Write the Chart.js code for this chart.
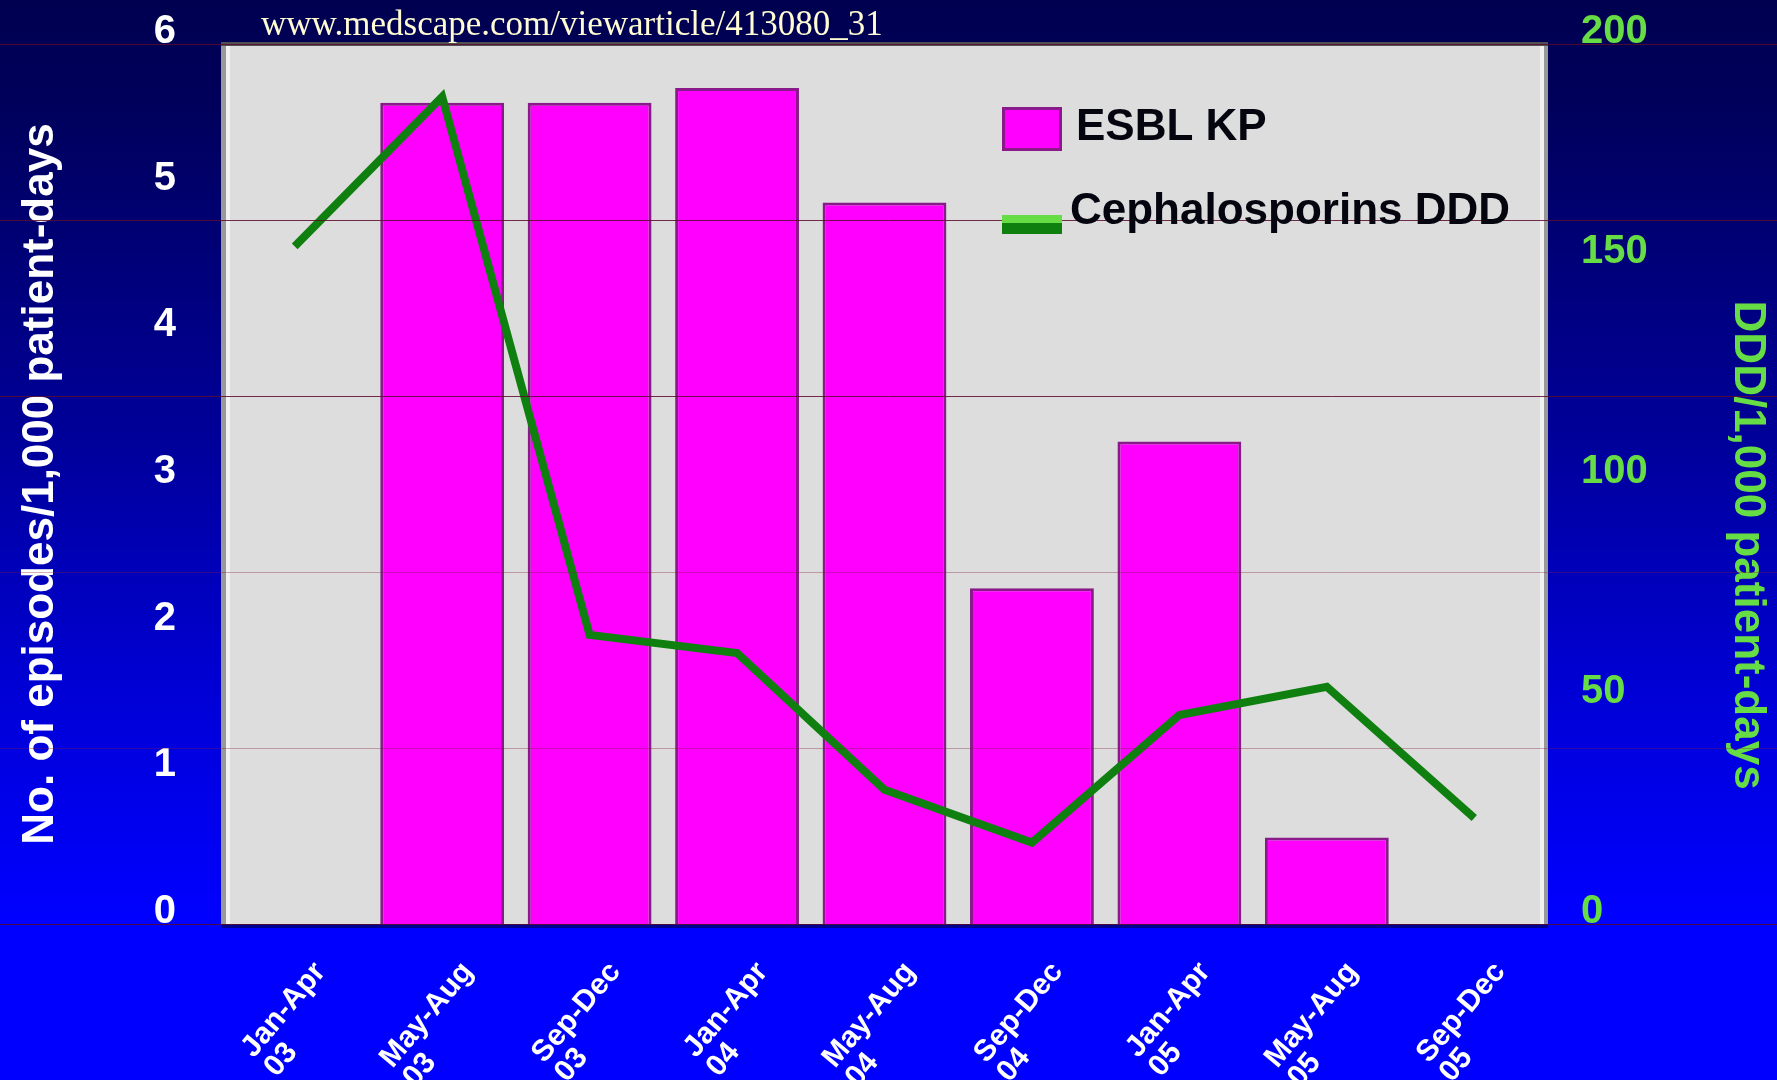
<!DOCTYPE html>
<html>
<head>
  <title>ESBL KP and cephalosporin use</title>
  <script src="https://cdn.jsdelivr.net/npm/chart.js"></script>
  <style>
    body { margin: 0; background: #000050; }
    canvas { display: block; }
  </style>
</head>
<body>
  <canvas id="chart" width="1777" height="1080"></canvas>
  <script>
    // values
    const periods = ['Jan-Apr', 'May-Aug', 'Sep-Dec', 'Jan-Apr', 'May-Aug', 'Sep-Dec', 'Jan-Apr', 'May-Aug', 'Sep-Dec'];
    const years = ['03', '03', '03', '04', '04', '04', '05', '05', '05'];
    const esblKp = [0, 5.6, 5.6, 5.7, 4.92, 2.29, 3.29, 0.59, 0];
    const cephDdd = [154, 188, 65.7, 61.6, 30.5, 18.5, 47.5, 53.9, 24.1];
    const leftMax = 6, leftStep = 1;
    const rightMax = 200, rightStep = 50;
    const bandStep = 40; // the faint horizontal rules on the slide

    const sans = '"Liberation Sans", Arial, sans-serif';

    // slide background, plot panel and its frame
    const backdrop = {
      id: 'backdrop',
      beforeDraw(chart) {
        const { ctx, width, height, chartArea: a } = chart;
        const g = ctx.createLinearGradient(0, 0, 0, height);
        g.addColorStop(0, '#000050');
        g.addColorStop(0.1, '#00005c');
        g.addColorStop(0.4, '#000098');
        g.addColorStop(0.65, '#0000d8');
        g.addColorStop(0.85, '#0000ff');
        g.addColorStop(1, '#0000ff');
        ctx.save();
        ctx.fillStyle = g;
        ctx.fillRect(0, 0, width, height);
        ctx.fillStyle = '#dddddd';
        ctx.fillRect(a.left, a.top, a.width, a.height);
        ctx.fillStyle = '#999999';
        ctx.fillRect(a.left, a.top, 5, a.height);
        ctx.fillRect(a.right - 4, a.top, 4, a.height);
        ctx.fillStyle = '#f2f2f2';
        ctx.fillRect(a.left + 5, a.top, 4, a.height);
        ctx.fillRect(a.right - 8, a.top, 4, a.height);
        ctx.fillStyle = '#505050';
        ctx.fillRect(a.left, a.top - 2, a.width, 4);
        ctx.fillStyle = '#000090';
        ctx.fillRect(a.left, a.bottom, a.width, 4);
        ctx.restore();
      },
      afterDraw(chart) {
        const { ctx, width } = chart;
        const y1 = chart.scales.y1;
        const a = chart.chartArea;
        ctx.save();
        // rules run across the whole slide, over the bars too
        for (let v = 0; v <= rightMax; v += bandStep) {
          const y = Math.round(y1.getPixelForValue(v)) + 0.5;
          ctx.strokeStyle = (v === 40 || v === 80) ? 'rgba(120,30,60,0.35)' : 'rgba(90,10,45,0.85)';
          ctx.lineWidth = 1;
          ctx.beginPath();
          ctx.moveTo(0, y);
          ctx.lineTo(width, y);
          ctx.stroke();
        }

        // slanted two-line category labels, second line left aligned
        const x = chart.scales.x;
        ctx.fillStyle = '#ffffff';
        ctx.font = 'bold 30px ' + sans;
        chart.data.labels.forEach((lab, i) => {
          ctx.save();
          ctx.translate(x.getPixelForValue(i) + 14, a.bottom + 33);
          ctx.rotate(-50 * Math.PI / 180);
          ctx.textBaseline = 'top';
          ctx.textAlign = 'right';
          ctx.fillText(lab[0], 0, 0);
          const w = ctx.measureText(lab[0]).width;
          ctx.textAlign = 'left';
          ctx.fillText(lab[1], -w, 30);
          ctx.restore();
        });

        // legend inside the plot, upper right
        const ds = chart.data.datasets;
        ctx.font = 'bold 44px ' + sans;
        ctx.textBaseline = 'middle';
        ctx.textAlign = 'left';
        ctx.fillStyle = ds[0].backgroundColor;
        ctx.fillRect(1002, 107, 60, 44);
        ctx.strokeStyle = ds[0].borderColor;
        ctx.lineWidth = 3;
        ctx.strokeRect(1003.5, 108.5, 57, 41);
        ctx.fillStyle = '#050510';
        ctx.fillText(ds[0].label, 1076, 128);
        ctx.fillStyle = '#66dd44';
        ctx.fillRect(1002, 215, 60, 8);
        ctx.fillStyle = ds[1].borderColor;
        ctx.fillRect(1002, 223, 60, 11);
        ctx.fillStyle = '#050510';
        ctx.fillText(ds[1].label, 1070, 212);
        ctx.restore();

        // watermark line at the top
        ctx.save();
        ctx.fillStyle = '#fffbd2';
        ctx.font = '35px "Liberation Serif", "Times New Roman", serif';
        ctx.textBaseline = 'alphabetic';
        ctx.fillText('www.medscape.com/viewarticle/413080_31', 261, 35);
        ctx.restore();
      }
    };

    const chart = new Chart(document.getElementById('chart'), {
      type: 'bar',
      data: {
        labels: periods.map((p, i) => [p, years[i]]),
        datasets: [
          {
            label: 'ESBL KP',
            data: esblKp,
            yAxisID: 'y',
            backgroundColor: '#ff00ff',
            borderColor: '#8a1a8a',
            borderWidth: 3,
            categoryPercentage: 1,
            barPercentage: 0.84,
            order: 1
          },
          {
            label: 'Cephalosporins DDD',
            type: 'line',
            data: cephDdd,
            yAxisID: 'y1',
            borderColor: '#0f800f',
            borderWidth: 8,
            borderJoinStyle: 'miter',
            pointRadius: 0,
            tension: 0,
            fill: false,
            order: 0
          }
        ]
      },
      options: {
        responsive: false,
        animation: false,
        events: [],
        layout: { padding: { top: 44, bottom: 156, left: 0, right: 0 } },
        plugins: {
          legend: { display: false },
          tooltip: { enabled: false }
        },
        scales: {
          x: { display: false },
          y: {
            position: 'left',
            min: 0,
            max: leftMax,
            grid: { display: false, drawTicks: false },
            border: { display: false },
            ticks: {
              stepSize: leftStep,
              padding: 45,
              labelOffset: -12,
              color: '#ffffff',
              font: { family: sans, size: 40, weight: 'bold' }
            },
            title: {
              display: true,
              text: 'No. of episodes/1,000 patient-days',
              color: '#ffffff',
              padding: { top: 14, bottom: 0 },
              font: { family: sans, size: 44, weight: 'bold' }
            },
            afterFit(s) { s.width = 221; s.paddingTop = 0; s.paddingBottom = 0; }
          },
          y1: {
            position: 'right',
            min: 0,
            max: rightMax,
            grid: { display: false, drawTicks: false },
            border: { display: false },
            ticks: {
              stepSize: rightStep,
              padding: 33,
              labelOffset: -12,
              color: '#66dd44',
              font: { family: sans, size: 40, weight: 'bold' }
            },
            title: {
              display: true,
              // leading spaces push the title down the axis as on the slide
              text: '          DDD/1,000 patient-days',
              color: '#66dd44',
              padding: { top: 3, bottom: 0 },
              font: { family: sans, size: 44, weight: 'bold' }
            },
            afterFit(s) { s.width = 229; s.paddingTop = 0; s.paddingBottom = 0; }
          }
        }
      },
      plugins: [backdrop]
    });
  </script>
</body>
</html>
